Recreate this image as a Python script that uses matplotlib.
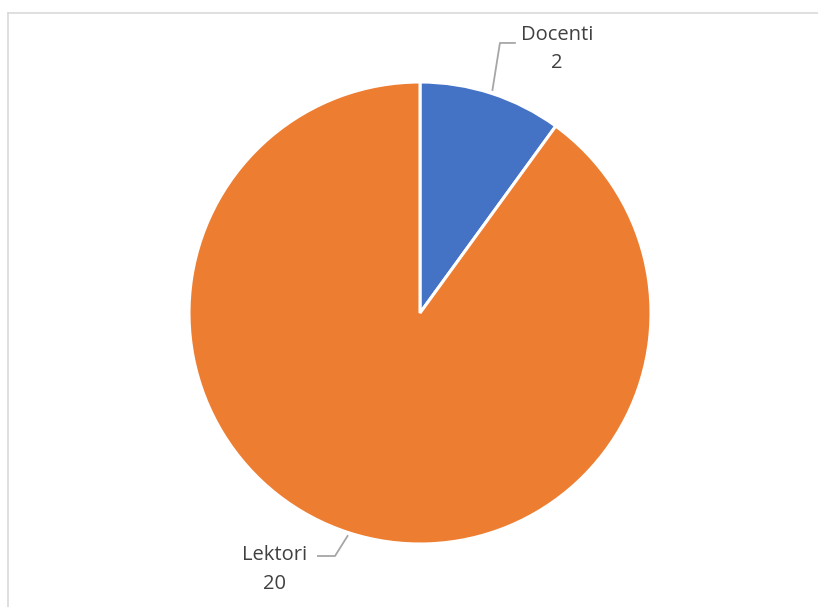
import numpy as np
import matplotlib
matplotlib.use("Agg")
import matplotlib.pyplot as plt
from matplotlib.lines import Line2D

categories = ["Docenti", "Lektori"]
values = [2.2, 19.8]   # slice shares as drawn (10% / 90%); labels show rounded counts
colors = ["#4472C4", "#ED7D31"]

W, H = 818, 607
fig = plt.figure(figsize=(W / 100, H / 100), dpi=100)
fig.patch.set_facecolor("white")

# border (top and left visible, extends beyond canvas)
fig.add_artist(Line2D([8 / W, 1.01], [1 - 13 / H, 1 - 13 / H], color="#D9D9D9", lw=1.2))
fig.add_artist(Line2D([8 / W, 8 / W], [1 - 13 / H, -0.01], color="#D9D9D9", lw=1.2))

cx, cy, r = 420, 313, 231
ax = fig.add_axes([(cx - r) / W, (H - cy - r) / H, 2 * r / W, 2 * r / H])
wedges, _ = ax.pie(values, colors=colors, startangle=90, counterclock=False,
                   radius=1, wedgeprops=dict(edgecolor="white", linewidth=2.2))
ax.set_xlim(-1, 1)
ax.set_ylim(-1, 1)
ax.set_aspect("equal")
ax.axis("off")

font = dict(family=["Open Sans", "DejaVu Sans"], fontsize=14.5, color="#404040")
lc = "#A6A6A6"

# leader geometry (layout, in radius units)
layouts = [
    dict(elbow=(0.346, 1.169), end=(0.411, 1.169), text=(0.593, 1.143)),
    dict(elbow=(-0.368, -1.052), end=(-0.442, -1.052), text=(-0.628, -1.110)),
]
for w, cat, val, lay in zip(wedges, categories, values, layouts):
    ang = np.deg2rad((w.theta1 + w.theta2) / 2)
    start = (1.015 * np.cos(ang), 1.015 * np.sin(ang))
    xs = [start[0], lay["elbow"][0], lay["end"][0]]
    ys = [start[1], lay["elbow"][1], lay["end"][1]]
    ax.plot(xs, ys, color=lc, lw=1.3, clip_on=False)
    ax.text(lay["text"][0], lay["text"][1], f"{cat}\n{val:.0f}", ha="center", va="center",
            linespacing=1.55, **font)

fig.savefig("out.png", dpi=100, facecolor="white")
